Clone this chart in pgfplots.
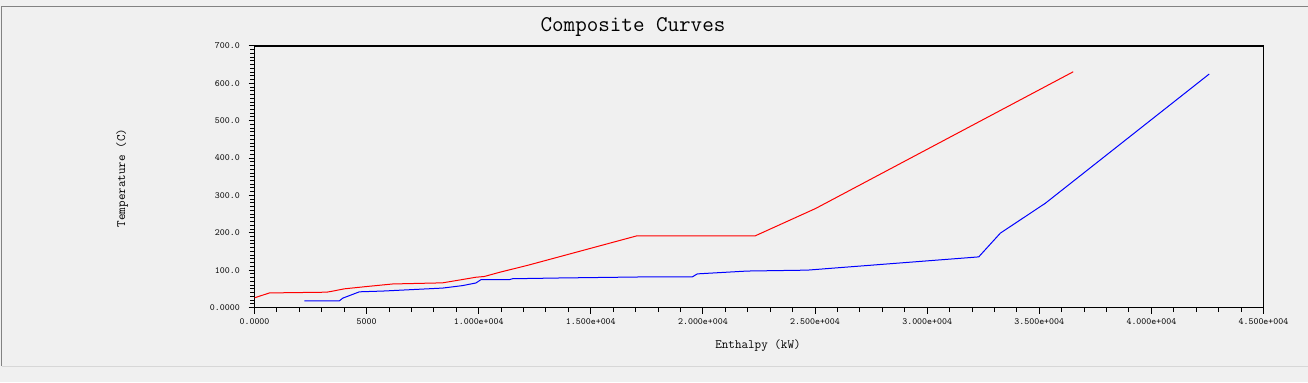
\documentclass[border=0pt]{standalone}
\usepackage{fontspec}
\usepackage{pgfplots}
\pgfplotsset{compat=1.18}
\definecolor{bg}{RGB}{240,240,240}
\definecolor{framedark}{RGB}{130,130,130}
\definecolor{framelight}{RGB}{215,215,215}
\definecolor{hotred}{RGB}{255,0,0}
\definecolor{coldblue}{RGB}{0,0,255}

\pgfplotstableread{
H T
0 26
668 39
3222 41
3500 44
4010 50
4975 56
6163 63
8390 66
9876 81
10247 83
10915 94
12250 114
17033 191.5
22320 191.5
25024 265
36515 631
}\hotdata

\pgfplotstableread{
H T
2228 18
3787 18
3935 25
4678 42
5716 44
7053 48
8390 52
9280 58.6
9876 65.7
10100 74.5
11360 74.5
11508 77
13588 79
17150 81.7
19527 82
19750 90
21977 97.6
24650 100
32300 135.5
33263 199
35270 279
42580 625
}\colddata

\begin{document}
\begin{tikzpicture}[x=1bp,y=1bp]
\fill[bg] (0,0) rectangle (1308,382);
\useasboundingbox (0,0) rectangle (1308,382);
\draw[framelight, line width=1bp] (2,16) -- (1308,16);
\draw[framedark, line width=1.5bp] (1.5,16) -- (1.5,375.5) -- (1308,375.5);

\node[font=\ttfamily\fontsize{22.5}{22.5}\selectfont] at (633,355) {Composite Curves};
\node[rotate=90, font=\ttfamily\fontsize{12.8}{12.8}\selectfont] at (122,204) {Temperature (C)};
\node[font=\ttfamily\fontsize{12.8}{12.8}\selectfont] at (758,36) {Enthalpy (kW)};

\begin{axis}[
  at={(254.5bp,74.5bp)}, anchor=south west,
  scale only axis, width=1009bp, height=261.5bp,
  xmin=0, xmax=45000, ymin=0, ymax=700,
  axis line style={line width=1.5bp, black},
  tick align=outside, tick pos=left,
  xtick={0,5000,10000,15000,20000,25000,30000,35000,40000,45000},
  xticklabels={0.0000,5000,1.000e+004,1.500e+004,2.000e+004,2.500e+004,3.000e+004,3.500e+004,4.000e+004,4.500e+004},
  ytick={0,100,200,300,400,500,600,700},
  yticklabels={0.0000,100.0,200.0,300.0,400.0,500.0,600.0,700.0},
  minor x tick num=4, minor y tick num=9,
  major tick length=6bp, minor tick length=4.5bp,
  every tick/.style={black, line width=1bp},
  xticklabel style={font=\ttfamily\fontsize{9.5}{9.5}\selectfont, inner sep=0pt, anchor=north, yshift=-5bp},
  yticklabel style={font=\ttfamily\fontsize{9.5}{9.5}\selectfont, inner sep=0pt, anchor=east, xshift=-8.5bp},
  scaled x ticks=false, scaled y ticks=false,
]
\addplot[hotred, line width=1bp] table[x=H, y=T] {\hotdata};
\addplot[coldblue, line width=1bp] table[x=H, y=T] {\colddata};
\end{axis}
\end{tikzpicture}
\end{document}
